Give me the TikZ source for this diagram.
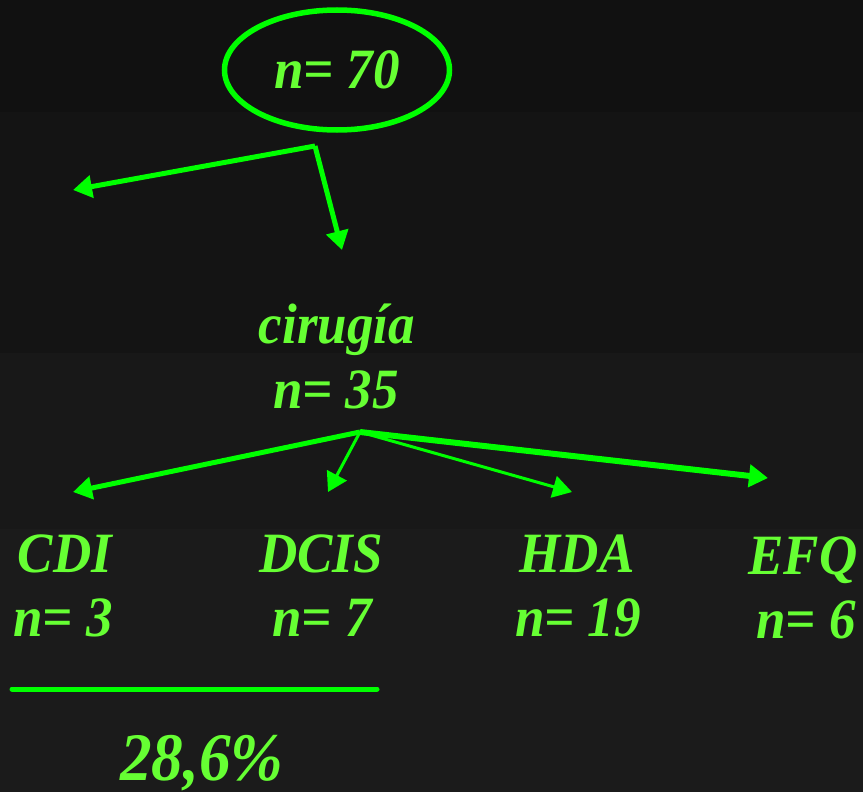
\documentclass[tikz,border=0pt]{standalone}
\usepackage{fontspec}
\setmainfont{Liberation Serif}[FakeStretch=0.93]
\usepackage{tikz}
\usetikzlibrary{shapes.geometric,arrows.meta}
\definecolor{lime}{HTML}{00FF00}
\definecolor{txtgreen}{HTML}{66FF33}
\definecolor{bandA}{HTML}{111111}
\definecolor{bandB}{HTML}{141414}
\definecolor{bandC}{HTML}{181818}
\definecolor{bandD}{HTML}{1B1B1B}

\begin{document}
\begin{tikzpicture}[x=1pt, y=-1pt,
    root/.style={ellipse, draw=lime, line width=5.5pt, minimum width=225pt, minimum height=120pt, inner sep=0pt, text=txtgreen, font=\fontsize{57}{63}\selectfont\bfseries\itshape},
    txt/.style={text=txtgreen, font=\fontsize{57}{63}\selectfont\bfseries\itshape, inner sep=0pt, anchor=base},
    result/.style={txt, font=\fontsize{68}{72}\selectfont\bfseries\itshape},
    arrow/.style={-{Triangle[length=19pt,width=22pt]}, draw=lime, line width=5pt},
    thinarrow/.style={arrow, line width=3pt}
]
\useasboundingbox (0,0) rectangle (863,792);

% Background bands
\fill[bandA] (0,0) rectangle (863,112);
\fill[bandB] (0,112) rectangle (863,353);
\fill[bandC] (0,353) rectangle (863,529);
\fill[bandD] (0,529) rectangle (863,792);

% Total
\node[root] (total) at (337,70) {n= 70};

% First split
\coordinate (split_top) at (315,146);
\coordinate (other) at (73,190);
\coordinate (surgery_in) at (342,250);

% Surgery group
\node[txt] (surgery) at (337,343) {cirugía};
\node[txt] (surgery_n) at (336,408) {n= 35};

% Second split
\coordinate (split_bot) at (360,432);
\coordinate (cdi_in) at (73,492);
\coordinate (dcis_in) at (328,492);
\coordinate (hda_in) at (572,492);
\coordinate (efq_in) at (768,478);

% Diagnoses
\node[txt] (cdi) at (65,572) {CDI};
\node[txt] (cdi_n) at (63,636) {n= 3};
\node[txt] (dcis) at (321,572) {DCIS};
\node[txt] (dcis_n) at (322,636) {n= 7};
\node[txt] (hda) at (577,572) {HDA};
\node[txt] (hda_n) at (578,636) {n= 19};
\node[txt] (efq) at (803,574) {EFQ};
\node[txt] (efq_n) at (806,638) {n= 6};

% Result
\coordinate (bar_l) at (12,689);
\coordinate (bar_r) at (377,689);
\draw[lime, line width=5pt, line cap=round] (bar_l) -- (bar_r);
\node[result] (percent) at (202,780) {28,6\%};

% Arrows
\draw[arrow] (split_top) -- (other);
\draw[arrow] (split_top) -- (surgery_in);
\draw[arrow] (split_bot) -- (cdi_in);
\draw[thinarrow] (split_bot) -- (dcis_in);
\draw[thinarrow] (split_bot) -- (hda_in);
\draw[arrow, line width=6pt] (split_bot) -- (efq_in);

\end{tikzpicture}
\end{document}
